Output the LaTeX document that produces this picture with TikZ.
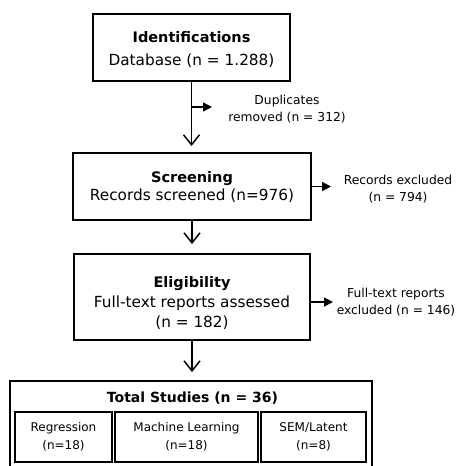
\documentclass[tikz,border=0pt]{standalone}
\usepackage{fontspec}
\setmainfont{DejaVu Sans}
\usetikzlibrary{arrows.meta}

\begin{document}
\begin{tikzpicture}[x=1pt,y=-1pt,
  stagebox/.style={draw, line width=2pt, inner sep=0pt},
  stagetext/.style={align=center, inner sep=0pt, font=\fontsize{15.3}{18}\selectfont},
  groupbox/.style={draw, line width=2pt, align=center, inner sep=0pt,
    minimum height=50pt, font=\fontsize{12}{18}\selectfont},
  headfont/.style={font=\bfseries\fontsize{14.5}{18}\selectfont},
  sidenote/.style={align=center, inner sep=0pt, font=\fontsize{12.3}{17}\selectfont},
  down/.style={line width=1.5pt, -{Straight Barb[length=10pt,width=16pt,line width=1.5pt]}},
  side/.style={line width=1.3pt, -{Triangle[length=9pt,width=9pt]}}]
\useasboundingbox (0,0) rectangle (459,466);

% main stages: frame and its text
\node[stagebox, minimum width=197pt, minimum height=67pt] (ident) at (191.5,47.5) {};
\node[stagetext] (identtext) at (191.5,49)
  {{\bfseries\fontsize{14.5}{18}\selectfont Identifications}\\[5pt] Database (n = 1.288)};
\node[stagebox, minimum width=238pt, minimum height=67pt] (screen) at (192,186.5) {};
\node[stagetext] (screentext) at (192,186.5)
  {{\bfseries\fontsize{14.5}{18}\selectfont Screening}\\ Records screened (n=976)};
\node[stagebox, minimum width=236pt, minimum height=86pt] (elig) at (192,297) {};
\node[stagetext] (eligtext) at (192,303)
  {{\bfseries\fontsize{14.5}{18}\selectfont Eligibility}\\[2pt] Full-text reports assessed\\[2pt] (n = 182)};

% final group with the three method boxes
\node[draw, line width=2pt, inner sep=0pt, minimum width=362pt, minimum height=86pt] (total) at (191,424) {};
\node[font=\bfseries\fontsize{14}{18}\selectfont] (totaltitle) at (192.5,398) {Total Studies (n = 36)};
\node[groupbox, minimum width=97pt] (regr) at (63.5,437) {Regression\\(n=18)};
\node[groupbox, minimum width=143pt] (ml) at (186.5,437) {Machine Learning\\(n=18)};
\node[groupbox, minimum width=105pt] (sem) at (313.5,437) {SEM/Latent\\(n=8)};

% exclusion notes
\node[sidenote] (dup) at (287,109) {Duplicates\\removed (n = 312)};
\node[sidenote] (rexcl) at (398,189) {Records excluded\\(n = 794)};
\node[sidenote] (fexcl) at (396,302) {Full-text reports\\excluded (n = 146)};

% flow arrows
\draw[down, shorten >=6pt] (ident.south) -- (ident.south |- screen.north);
\draw[down, shorten >=9pt] (screen.south) -- (screen.south |- elig.north);
\draw[down, shorten >=8pt] (elig.south) -- (elig.south |- total.north);

% side arrows to the exclusion notes
\coordinate (fork) at (191.5,107);
\coordinate (forkend) at (212,107);
\draw[side] (fork) -- (forkend);
\draw[side] (screen.east) -- ++(19,0);
\draw[side] ([yshift=-5pt]elig.east) -- ++(22,0);
\end{tikzpicture}
\end{document}
